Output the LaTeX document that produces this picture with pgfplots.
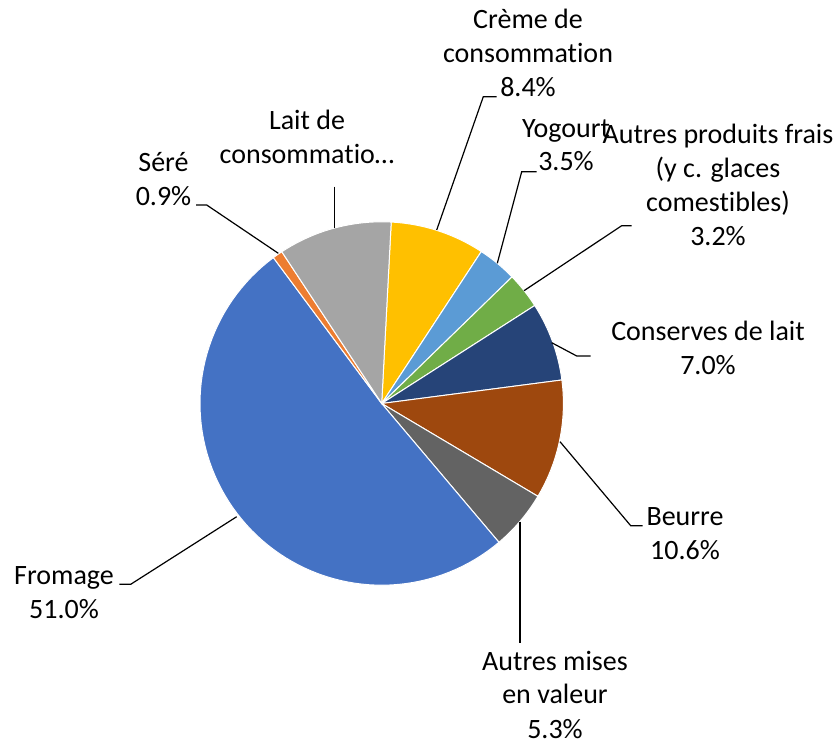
\documentclass[border=0pt]{standalone}
\usepackage{pgfplots}
\pgfplotsset{compat=1.18}
\usepackage{fontspec}
\setmainfont{Carlito}[Ligatures={NoCommon}]
\definecolor{cCreme}{HTML}{FFC000}
\definecolor{cYog}{HTML}{5B9BD5}
\definecolor{cFrais}{HTML}{70AD47}
\definecolor{cCons}{HTML}{264478}
\definecolor{cBeurre}{HTML}{9E480E}
\definecolor{cMises}{HTML}{636363}
\definecolor{cFromage}{HTML}{4472C4}
\definecolor{cSere}{HTML}{ED7D31}
\definecolor{cLait}{HTML}{A5A5A5}
\def\cx{381.7}
\def\cy{403.5}
\def\rr{181.7}
\def\angA{87}
\newcommand\slice[2]{%
  \pgfmathsetmacro\angB{\angA-#1*3.6}%
  \edef\doslice{\noexpand\addplot[fill=#2, draw=white, line width=0.5pt, domain=\angB:\angA, samples=80, variable=\noexpand\t]}%
  \doslice ({\cx+\rr*cos(\t)},{\cy-\rr*sin(\t)}) -- (axis cs:\cx,\cy) -- cycle;
  \global\let\angA\angB}
\tikzset{lbl/.style={anchor=base, inner sep=0pt, font=\fontsize{14}{17}\selectfont, text=black}}
\begin{document}
\begin{tikzpicture}
\begin{axis}[
  scale only axis, width=420pt, height=373.5pt,
  xmin=0, xmax=840, ymin=0, ymax=747, y dir=reverse,
  hide axis, clip=false]
\path (axis cs:0,0) rectangle (axis cs:840,747);
% data: share in percent, clockwise from the top
\slice{8.4}{cCreme}   % Crème de consommation
\slice{3.5}{cYog}     % Yogourt
\slice{3.2}{cFrais}   % Autres produits frais
\slice{7.0}{cCons}    % Conserves de lait
\slice{10.6}{cBeurre} % Beurre
\slice{5.3}{cMises}   % Autres mises en valeur
\slice{51.0}{cFromage}% Fromage
\slice{0.9}{cSere}    % Séré
\slice{10.1}{cLait}   % Lait de consommation
% leader lines
\draw[black, line width=0.6pt] (axis cs:436.7,230) -- (axis cs:483.3,96.7) -- (axis cs:496.7,96.7);
\draw[black, line width=0.6pt] (axis cs:497.3,263.3) -- (axis cs:521.7,171.7) -- (axis cs:536.7,171.7);
\draw[black, line width=0.6pt] (axis cs:524,290.7) -- (axis cs:621.7,225.7) -- (axis cs:631.7,225.7);
\draw[black, line width=0.6pt] (axis cs:551.7,342.7) -- (axis cs:576.7,356) -- (axis cs:590.7,356);
\draw[black, line width=0.6pt] (axis cs:560,441.7) -- (axis cs:630.7,525.7) -- (axis cs:642.7,525.7);
\draw[black, line width=0.6pt] (axis cs:520,521.7) -- (axis cs:520,643.3);
\draw[black, line width=0.6pt] (axis cs:236.7,516.7) -- (axis cs:130.7,584.3) -- (axis cs:119.3,584.3);
\draw[black, line width=0.6pt] (axis cs:196,205) -- (axis cs:206.7,205) -- (axis cs:278.3,253.3);
\draw[black, line width=0.6pt] (axis cs:334.3,186.7) -- (axis cs:334.3,228.3);
% labels
\node[lbl] at (axis cs:528,28.3) {Crème de};
\node[lbl] at (axis cs:528,62.3) {consommation};
\node[lbl] at (axis cs:528,96.7) {8.4\%};
\node[lbl] at (axis cs:566,137.3) {Yogourt};
\node[lbl] at (axis cs:566,171) {3.5\%};
\node[lbl] at (axis cs:718,143.3) {Autres produits frais};
\node[lbl] at (axis cs:718,177.5) {(y c. glaces};
\node[lbl] at (axis cs:718,211.6) {comestibles)};
\node[lbl] at (axis cs:718,245.7) {3.2\%};
\node[lbl] at (axis cs:708,340.7) {Conserves de lait};
\node[lbl] at (axis cs:708,375) {7.0\%};
\node[lbl] at (axis cs:685,525.7) {Beurre};
\node[lbl] at (axis cs:685,559.5) {10.6\%};
\node[lbl] at (axis cs:555,670) {Autres mises};
\node[lbl] at (axis cs:555,704) {en valeur};
\node[lbl] at (axis cs:555,738.3) {5.3\%};
\node[lbl] at (axis cs:64,584.3) {Fromage};
\node[lbl] at (axis cs:64,618.7) {51.0\%};
\node[lbl] at (axis cs:163.5,171.7) {Séré};
\node[lbl] at (axis cs:163.5,206) {0.9\%};
\node[lbl] at (axis cs:307,130) {Lait de};
\node[lbl] at (axis cs:307,163.7) {consommatio…};
\end{axis}
\end{tikzpicture}
\end{document}
